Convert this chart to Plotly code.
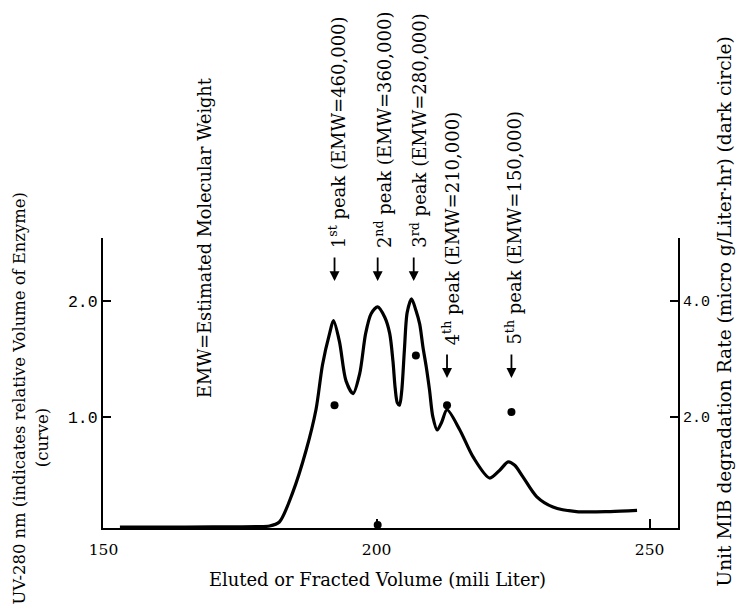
import plotly.graph_objects as go

# ---------------- data ----------------
volume_ml = [153.0, 160.0, 170.0, 178.0, 180.4, 182.2, 184.6, 187.1, 188.9, 190.1,
             191.4, 192.1, 193.2, 194.4, 195.7, 196.9, 198.0, 199.0, 200.2, 201.5,
             202.4, 203.0, 203.4, 203.8, 204.2, 204.6, 205.1, 205.6, 206.4, 207.2,
             207.9, 208.5, 209.1, 209.7, 210.3, 211.1, 211.9, 212.9, 215.2, 217.7,
             220.7, 222.6, 224.1, 225.3, 226.8, 229.3, 232.3, 236.6, 242.8, 247.7]
uv_280 = [0.045, 0.045, 0.048, 0.05, 0.055, 0.09, 0.34, 0.71, 1.06, 1.45,
          1.72, 1.83, 1.65, 1.31, 1.20, 1.37, 1.72, 1.89, 1.95, 1.86,
          1.72, 1.48, 1.25, 1.12, 1.10, 1.22, 1.58, 1.90, 2.02, 1.92,
          1.80, 1.60, 1.43, 1.23, 1.00, 0.885, 0.95, 1.06, 0.89, 0.65,
          0.47, 0.54, 0.61, 0.58, 0.48, 0.31, 0.22, 0.18, 0.18, 0.19]

dot_volume_ml = [192.3, 200.2, 207.2, 212.9, 224.7]
mib_rate = [2.20, 0.13, 3.06, 2.20, 2.08]

peak_volume_ml = [192.3, 200.2, 206.8, 212.9, 224.7]
peak_ordinal = ["1", "2", "3", "4", "5"]
peak_suffix = ["st", "nd", "rd", "th", "th"]
peak_emw = ["460,000", "360,000", "280,000", "210,000", "150,000"]

x_ticks = [150, 200, 250]
left_ticks = [1.0, 2.0]
left_ticktext = ["1.0", "2.0"]
right_ticks = [2.0, 4.0]
right_ticktext = ["2.0", "4.0"]

# ---------------- figure ----------------
SERIF = "DejaVu Serif"
fig = go.Figure()

fig.add_trace(go.Scatter(
    x=volume_ml, y=uv_280, mode="lines",
    line=dict(color="black", width=3.2, shape="spline", smoothing=0.8),
    yaxis="y", showlegend=False, hoverinfo="skip"))

fig.add_trace(go.Scatter(
    x=dot_volume_ml, y=mib_rate, mode="markers",
    marker=dict(color="black", size=8),
    yaxis="y2", showlegend=False, hoverinfo="skip"))

annotations = []

# peak labels and arrows
tip_y = [2.173, 2.173, 2.173, 1.335, 1.335]
text_dx = [0.5, 0.9, 0.9, 0.8, 0.4]
for i in range(len(peak_volume_ml)):
    annotations.append(dict(
        x=peak_volume_ml[i], y=tip_y[i], xref="x", yref="y",
        text="", showarrow=True, ax=0, ay=-25,
        arrowhead=2, arrowsize=1.1, arrowwidth=1.8, arrowcolor="black"))
    annotations.append(dict(
        x=peak_volume_ml[i] + text_dx[i], y=tip_y[i], xref="x", yref="y",
        yshift=31, yanchor="bottom", xanchor="center", textangle=-90,
        showarrow=False,
        text=f"{peak_ordinal[i]}<sup>{peak_suffix[i]}</sup> peak (EMW={peak_emw[i]})",
        font=dict(family=SERIF, size=18, color="black")))

annotations.append(dict(
    x=0.177, y=0.441, xref="paper", yref="paper", xanchor="center", yanchor="bottom",
    textangle=-90, showarrow=False, text="EMW=Estimated Molecular Weight",
    font=dict(family=SERIF, size=17.7, color="black")))

# axis titles
annotations.append(dict(
    x=-0.1443, y=-0.271, xref="paper", yref="paper", xanchor="center", yanchor="bottom",
    textangle=-90, showarrow=False,
    text="UV-280 nm (indicates relative Volume of Enzyme)",
    font=dict(family=SERIF, size=16.4, color="black")))
annotations.append(dict(
    x=-0.106, y=0.31, xref="paper", yref="paper", xanchor="center", yanchor="middle",
    textangle=-90, showarrow=False, text="(curve)",
    font=dict(family=SERIF, size=16.4, color="black")))
annotations.append(dict(
    x=1.081, y=0.745, xref="paper", yref="paper", xanchor="center", yanchor="middle",
    textangle=-90, showarrow=False,
    text="Unit MIB degradation Rate (micro g/Liter\u00b7hr) (dark circle)",
    font=dict(family=SERIF, size=18.6, color="black")))
annotations.append(dict(
    x=0.478, y=-0.176, xref="paper", yref="paper", xanchor="center", yanchor="middle",
    showarrow=False, text="Eluted or Fracted Volume (mili Liter)",
    font=dict(family=SERIF, size=17.9, color="black")))

fig.update_layout(
    width=747, height=610, autosize=False,
    margin=dict(l=95, r=77, t=230, b=90),
    paper_bgcolor="white", plot_bgcolor="white",
    xaxis=dict(range=[149.9, 255.2], tickvals=x_ticks, ticks="inside", ticklen=9,
               tickwidth=1.5, tickcolor="black", showline=True, linewidth=2,
               linecolor="black", showgrid=False, zeroline=False,
               ticklabelstandoff=6,
               tickfont=dict(family=SERIF, size=15.5, color="black")),
    yaxis=dict(range=[0.038, 2.545], tickvals=left_ticks, ticktext=left_ticktext,
               ticks="inside", ticklen=8, tickwidth=1.5, tickcolor="black",
               showline=True, linewidth=2, linecolor="black", showgrid=False,
               zeroline=False,
               tickfont=dict(family="Liberation Mono", size=16.5, color="black")),
    yaxis2=dict(range=[0.076, 5.09], tickvals=right_ticks, ticktext=right_ticktext,
                overlaying="y", side="right", ticks="inside", ticklen=8,
                tickwidth=1.5, tickcolor="black", showline=True, linewidth=2,
                linecolor="black", showgrid=False, zeroline=False,
                tickfont=dict(family="Liberation Mono", size=15, color="black")),
    annotations=annotations,
)

fig.write_html("out.html")
